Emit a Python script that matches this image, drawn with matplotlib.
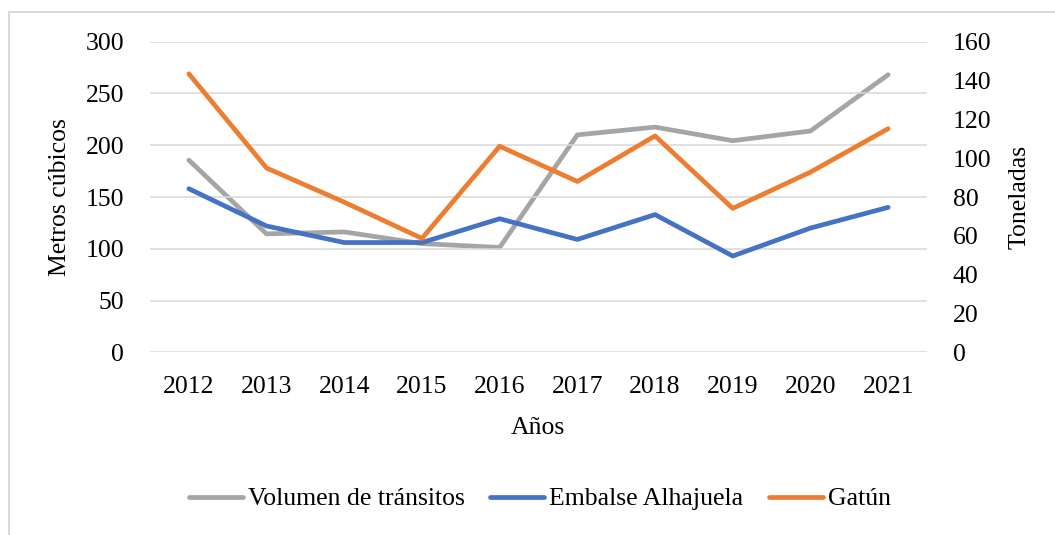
import matplotlib.pyplot as plt
from matplotlib.patches import Rectangle

# Data
years = ["2012", "2013", "2014", "2015", "2016", "2017", "2018", "2019", "2020", "2021"]
transitos = [99, 61, 62, 56, 54, 112, 116, 109, 114, 143]      # right axis (Toneladas)
alhajuela = [158, 122, 106, 106, 129, 109, 133, 93, 120, 140]  # left axis (Metros cúbicos)
gatun = [269, 178, 145, 110, 199, 165, 209, 139, 174, 216]     # left axis

left_ticks = [0, 50, 100, 150, 200, 250, 300]
right_ticks = [0, 20, 40, 60, 80, 100, 120, 140, 160]

plt.rcParams['font.family'] = ['Liberation Serif', 'DejaVu Serif']
fs = 18.5
W, H = 1055, 535

fig = plt.figure(figsize=(W / 100, H / 100), dpi=100)
fig.patches.append(Rectangle((8.5 / W, -0.1), 1.2, 1 - 12 / H + 0.1,
                             transform=fig.transFigure, fill=False,
                             edgecolor='#d9d9d9', linewidth=1.5))

ax = fig.add_axes([150 / W, 1 - 352.3 / H, 777 / W, 310.6 / H])
ax2 = ax.twinx()

x = list(range(len(years)))
l1, = ax2.plot(x, transitos, color='#A5A5A5', lw=3.4, solid_capstyle='round',
               label='Volumen de tránsitos')
l2, = ax.plot(x, alhajuela, color='#4472C4', lw=3.4, solid_capstyle='round',
              label='Embalse Alhajuela')
l3, = ax.plot(x, gatun, color='#ED7D31', lw=3.4, solid_capstyle='round',
              label='Gatún')
ax.set_zorder(ax2.get_zorder() + 1)
ax.patch.set_visible(False)

ax.set_xlim(-0.5, len(years) - 0.5)
ax.set_ylim(0, 300)
ax2.set_ylim(0, 160)
ax.set_yticks(left_ticks)
ax2.set_yticks(right_ticks)
ax.set_xticks(x)
ax.set_xticklabels(years)

ax.grid(axis='y', color='#d9d9d9', lw=1.1)
ax.set_axisbelow(True)
for a in (ax, ax2):
    for s in a.spines.values():
        s.set_visible(False)
    a.tick_params(length=0, labelsize=fs, pad=18.5)
ax.tick_params(axis='x', pad=17)

fig.text(60 / W, 1 - 197 / H, 'Metros cúbicos', rotation=90, ha='center', va='center', fontsize=fs)
fig.text(1020 / W, 1 - 197 / H, 'Toneladas', rotation=90, ha='center', va='center', fontsize=fs)
fig.text(538 / W, 1 - 428 / H, 'Años', ha='center', va='center', fontsize=fs)

fig.legend(handles=[l1, l2, l3], loc='center', bbox_to_anchor=(540 / W, 1 - 499 / H),
           ncol=3, frameon=False, fontsize=fs, handlelength=2.1,
           handletextpad=0.2, columnspacing=1.0)

fig.savefig('out.png', dpi=100)
